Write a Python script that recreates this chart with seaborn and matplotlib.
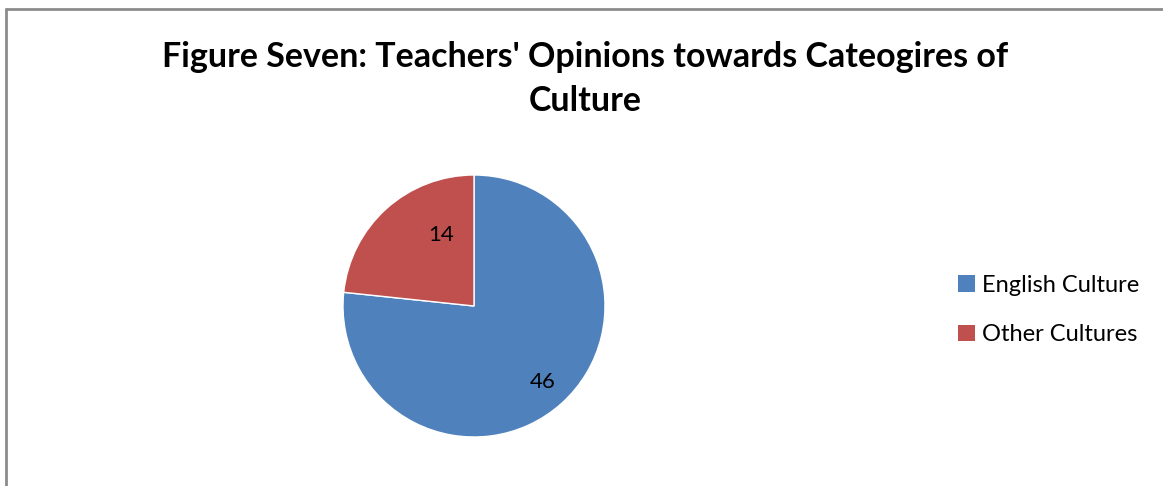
import matplotlib
matplotlib.use('Agg')
import matplotlib.pyplot as plt
import seaborn as sns
import numpy as np
from matplotlib.lines import Line2D
from matplotlib.patches import Patch

# Data
categories = ['English Culture', 'Other Cultures']
counts = [46, 14]
colors = ['#4F81BD', '#C0504D']
title = "Figure Seven: Teachers' Opinions towards Cateogires of\nCulture"

sns.set_theme(style='white')
plt.rcParams['font.family'] = ['Lato', 'DejaVu Sans']
plt.rcParams['text.color'] = 'black'

fig = plt.figure(figsize=(11.63, 4.86), dpi=100)
W, H = 1163, 486

# chart border (only left and top visible in the crop)
fig.add_artist(Line2D([5.5 / W, 1], [1 - 9.5 / H, 1 - 9.5 / H], transform=fig.transFigure,
                      color='#8c8c8c', lw=2))
fig.add_artist(Line2D([5.5 / W, 5.5 / W], [0, 1 - 9.5 / H], transform=fig.transFigure,
                      color='#8c8c8c', lw=2))

# pie axes: centre ~ (474, 306) px, radius ~131 px
cx, cy, r = 474, 306, 131
ax = fig.add_axes([(cx - r) / W, (H - cy - r) / H, 2 * r / W, 2 * r / H])
wedges, texts, autotexts = ax.pie(
    counts, colors=colors, startangle=90, counterclock=False,
    autopct=lambda p: f'{round(p * sum(counts) / 100):d}', pctdistance=0.72,
    wedgeprops={'edgecolor': 'white', 'linewidth': 1.0},
    textprops={'fontsize': 16, 'color': 'black'})

# Excel "best fit" label placement: nudge along each wedge
label_shift = [(0.0, 0.78), (-17, 0.6)]   # (angle offset deg, radius)
for w, t, (dth, rad) in zip(wedges, autotexts, label_shift):
    ang = np.deg2rad((w.theta1 + w.theta2) / 2 + dth)
    t.set_position((rad * np.cos(ang), rad * np.sin(ang)))

ax.set_xlim(-1, 1)
ax.set_ylim(-1, 1)
ax.set_aspect('equal')
ax.axis('off')

fig.text(585 / W, 1 - 79 / H, title, ha='center', va='center', fontsize=24.5,
         fontweight='bold', linespacing=1.45, color='black')

handles = [Patch(facecolor=c, edgecolor='none') for c in colors]
fig.legend(handles, categories, loc='center left', bbox_to_anchor=(937 / W, 1 - 310 / H),
           frameon=False, fontsize=17, handlelength=0.7, handleheight=0.7,
           handletextpad=0.3, labelspacing=1.2, labelcolor='black')

fig.savefig('out.png', dpi=100, facecolor='white')
